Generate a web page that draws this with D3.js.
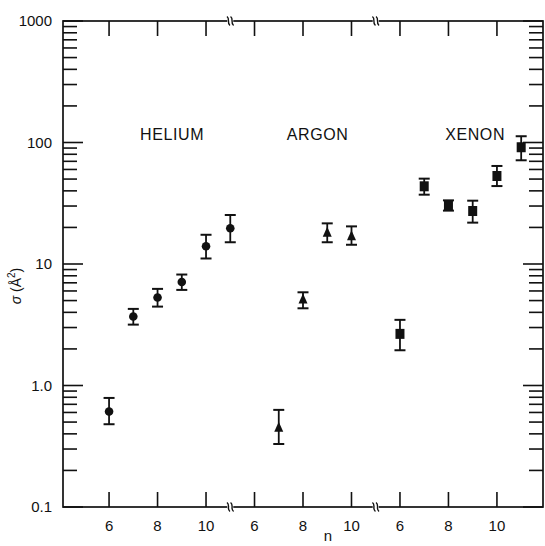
<!DOCTYPE html>
<html><head><meta charset="utf-8">
<script src="https://cdn.jsdelivr.net/npm/d3@7"></script>
<style>
html,body{margin:0;padding:0;background:#fff;}
svg{display:block;font-family:"Liberation Sans",Arial,Helvetica,sans-serif;}
</style></head>
<body>
<svg id="chart" width="545" height="546"></svg>
<script>
// ---- data ----
const groups = ["HELIUM", "ARGON", "XENON"];
const heliumN = [6, 7, 8, 9, 10, 11];
const heliumSigma = [0.61, 3.7, 5.3, 7.1, 14.0, 19.7];
const heliumLow = [0.48, 3.17, 4.46, 6.12, 11.1, 15.1];
const heliumHigh = [0.79, 4.27, 6.24, 8.19, 17.4, 25.3];
const argonN = [7, 8, 9, 10];
const argonSigma = [0.45, 5.1, 18.1, 16.9];
const argonLow = [0.33, 4.32, 15.1, 14.4];
const argonHigh = [0.63, 5.85, 21.6, 20.4];
const xenonN = [6, 7, 8, 9, 10, 11];
const xenonSigma = [2.66, 43.6, 30.4, 27.3, 53.0, 91.4];
const xenonLow = [1.95, 37.2, 27.5, 21.9, 43.8, 71.4];
const xenonHigh = [3.47, 50.4, 33.4, 33.2, 64.1, 112.6];
const xTickN = [6, 8, 10];
const yTickLabels = ["0.1", "1.0", "10", "100", "1000"];
const yTickValues = [0.1, 1, 10, 100, 1000];

// ---- layout ----
const L = 63, R = 543, T = 21, B = 507;
const svg = d3.select("#chart");
const x = d3.scaleLinear().domain([-1.9, 17.9]).range([L, R]);
const y = d3.scaleLog().domain([0.1, 1000]).range([B, T]);
const groupOffset = 6; // each group shifted by 6 n-units on a broken axis
const pos = (g, n) => g * groupOffset + (n - 6);

const series = [
  {g: 0, n: heliumN, v: heliumSigma, lo: heliumLow, hi: heliumHigh, shape: "circle"},
  {g: 1, n: argonN, v: argonSigma, lo: argonLow, hi: argonHigh, shape: "triangle"},
  {g: 2, n: xenonN, v: xenonSigma, lo: xenonLow, hi: xenonHigh, shape: "square"}
];

const ink = "#111";
const axisW = 1.7;

// ticks: y minor/major, left and right
const minorVals = [];
for (let e = -1; e < 3; e++) for (let k = 2; k <= 9; k++) minorVals.push(k * Math.pow(10, e));
const tg = svg.append("g").attr("stroke", ink).attr("stroke-width", 1.6);
minorVals.forEach(v => {
  tg.append("line").attr("x1", L).attr("x2", L + 14).attr("y1", y(v)).attr("y2", y(v));
  tg.append("line").attr("x1", R).attr("x2", R - 14).attr("y1", y(v)).attr("y2", y(v));
});
yTickValues.forEach(v => {
  tg.append("line").attr("x1", L).attr("x2", L + 20).attr("y1", y(v)).attr("y2", y(v));
  tg.append("line").attr("x1", R).attr("x2", R - 20).attr("y1", y(v)).attr("y2", y(v));
});
// x ticks top & bottom
const xTicks = [];
groups.forEach((gname, g) => xTickN.forEach(n => xTicks.push({g, n})));
xTicks.forEach(t => {
  const xx = x(pos(t.g, t.n));
  tg.append("line").attr("x1", xx).attr("x2", xx).attr("y1", B).attr("y2", B - 15);
  tg.append("line").attr("x1", xx).attr("x2", xx).attr("y1", T).attr("y2", T + 15);
});

// frame
svg.append("rect").attr("x", L).attr("y", T).attr("width", R - L).attr("height", B - T)
  .attr("fill", "none").attr("stroke", ink).attr("stroke-width", axisW);

// axis breaks
const breaks = [pos(0, 11), pos(1, 11)];
breaks.forEach(p => {
  const bx = x(p);
  [T, B].forEach(yy => {
    svg.append("rect").attr("x", bx - 3).attr("y", yy - 2).attr("width", 6).attr("height", 4).attr("fill", "#fff");
    [-1.8, 1.8].forEach(dx => {
      const cx = bx + dx;
      svg.append("path")
        .attr("d", `M${cx - 1.5},${yy - 4.5} C${cx + 2},${yy - 2} ${cx - 2},${yy + 2} ${cx + 1.5},${yy + 4.5}`)
        .attr("fill", "none").attr("stroke", ink).attr("stroke-width", 1.4);
    });
  });
});

// y tick labels
svg.append("g").selectAll("text").data(yTickValues).join("text")
  .attr("x", 52).attr("y", d => y(d)).attr("dy", "0.35em")
  .attr("text-anchor", "end").attr("font-size", 15).attr("fill", ink)
  .text((d, i) => yTickLabels[i]);

// x tick labels
svg.append("g").selectAll("text").data(xTicks).join("text")
  .attr("x", d => x(pos(d.g, d.n))).attr("y", 531)
  .attr("text-anchor", "middle").attr("font-size", 15).attr("fill", ink)
  .text(d => d.n);

// axis titles
svg.append("text").attr("x", x(pos(1, 8)) + 25).attr("y", 541)
  .attr("text-anchor", "middle").attr("font-size", 15).attr("fill", ink).text("n");
const yl = svg.append("text").attr("transform", "translate(21,286) rotate(-90)")
  .attr("text-anchor", "middle").attr("font-size", 14).attr("fill", ink);
yl.append("tspan").attr("font-style", "italic").text("σ");
yl.append("tspan").text(" (Å");
yl.append("tspan").attr("font-size", 10).attr("dy", -6).text("2");
yl.append("tspan").attr("dy", 6).text(")");

// group labels
const labelPos = [2.6, 8.6, 15.1];
svg.append("g").selectAll("text").data(groups).join("text")
  .attr("x", (d, i) => x(labelPos[i])).attr("y", 140)
  .attr("text-anchor", "middle").attr("font-size", 16).attr("letter-spacing", 0.6)
  .attr("fill", ink).text(d => d);

// data
const capW = 5.5;
series.forEach(s => {
  const g = svg.append("g");
  s.n.forEach((n, i) => {
    const cx = x(pos(s.g, n));
    const cy = y(s.v[i]), ylo = y(s.lo[i]), yhi = y(s.hi[i]);
    g.append("line").attr("x1", cx).attr("x2", cx).attr("y1", yhi).attr("y2", ylo)
      .attr("stroke", ink).attr("stroke-width", 1.8);
    [yhi, ylo].forEach(yy => g.append("line").attr("x1", cx - capW).attr("x2", cx + capW)
      .attr("y1", yy).attr("y2", yy).attr("stroke", ink).attr("stroke-width", 2));
    if (s.shape === "circle") {
      g.append("circle").attr("cx", cx).attr("cy", cy).attr("r", 4.3).attr("fill", ink);
    } else if (s.shape === "triangle") {
      g.append("path").attr("d", `M${cx},${cy - 6} L${cx + 4.5},${cy + 4} L${cx - 4.5},${cy + 4} Z`).attr("fill", ink);
    } else {
      g.append("rect").attr("x", cx - 4.5).attr("y", cy - 5).attr("width", 9).attr("height", 10).attr("fill", ink);
    }
  });
});
</script>
</body></html>
